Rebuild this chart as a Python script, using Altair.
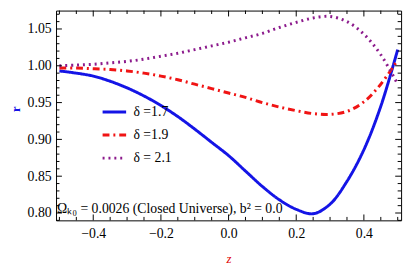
import altair as alt
import pandas as pd

# ---- data ----
z = [-0.5, -0.45, -0.4, -0.35, -0.3, -0.25, -0.2, -0.15, -0.1, -0.05, 0.0,
     0.05, 0.1, 0.15, 0.2, 0.25, 0.3, 0.35, 0.4, 0.45, 0.5]
r_17 = [0.993, 0.990, 0.986, 0.979, 0.970, 0.959, 0.946, 0.931, 0.914, 0.896, 0.878,
        0.857, 0.836, 0.818, 0.805, 0.799, 0.812, 0.843, 0.886, 0.945, 1.022]
r_19 = [0.997, 0.997, 0.996, 0.995, 0.993, 0.990, 0.986, 0.981, 0.975, 0.969, 0.963,
        0.957, 0.950, 0.944, 0.939, 0.935, 0.934, 0.938, 0.951, 0.975, 1.008]
r_21 = [1.000, 1.001, 1.002, 1.004, 1.006, 1.009, 1.013, 1.017, 1.022, 1.027, 1.032,
        1.038, 1.044, 1.052, 1.059, 1.065, 1.067, 1.060, 1.043, 1.015, 0.975]
series = ["δ =1.7", "δ =1.9", "δ = 2.1"]
colors = ["#1414e6", "#f01414", "#8c1a8c"]
dashes = [[1, 0], [7, 4, 2, 4], [2, 4]]
widths = [3, 3, 2.5]

x_major = [-0.4, -0.2, 0.0, 0.2, 0.4]
x_minor = [-0.5, -0.45, -0.35, -0.3, -0.25, -0.15, -0.1, -0.05,
           0.05, 0.1, 0.15, 0.25, 0.3, 0.35, 0.45, 0.5]
y_major = [0.80, 0.85, 0.90, 0.95, 1.00, 1.05]
y_minor = [0.79, 0.81, 0.82, 0.83, 0.84, 0.86, 0.87, 0.88, 0.89, 0.91, 0.92, 0.93,
           0.94, 0.96, 0.97, 0.98, 0.99, 1.01, 1.02, 1.03, 1.04, 1.06, 1.07]

annotation = "Ωₖ₀  =  0.0026 (Closed Universe),  b²  =  0.0"

W, H = 352, 214
SERIF = "Liberation Serif"

rows = []
for name, vals in zip(series, [r_17, r_19, r_21]):
    for zz, rr in zip(z, vals):
        rows.append({"z": zz, "r": rr, "series": name})
df = pd.DataFrame(rows)

xs = alt.Scale(domain=[-0.51, 0.51], nice=False, zero=False)
ys = alt.Scale(domain=[0.79, 1.075], nice=False, zero=False)

ax_x = alt.Axis(values=x_major, format=".1f", ticks=False, domain=False, grid=False,
                labelFont=SERIF, labelFontSize=14, labelColor="black", labelPadding=6,
                title="z", titleFont=SERIF, titleFontStyle="italic", titleFontWeight="normal",
                titleColor="#e00000", titleFontSize=13, titlePadding=13)
ax_y = alt.Axis(values=y_major, format=".2f", ticks=False, domain=False, grid=False,
                labelFont=SERIF, labelFontSize=14, labelColor="black", labelPadding=5,
                title="r", titleFont=SERIF, titleFontWeight="bold", titleColor="#1414e6",
                titleFontSize=13, titleX=-34, titleY=100)

legend = alt.Legend(orient="none", legendX=46, legendY=90, title=None,
                    symbolType="stroke", symbolSize=576, symbolStrokeWidth=3,
                    labelFont=SERIF, labelFontSize=14, labelColor="black",
                    labelOffset=6, rowPadding=2.5, padding=0)

lines = alt.Chart(df).mark_line(clip=True, interpolate="catmull-rom").encode(
    x=alt.X("z:Q", scale=xs, axis=ax_x),
    y=alt.Y("r:Q", scale=ys, axis=ax_y),
    color=alt.Color("series:N", scale=alt.Scale(domain=series, range=colors), legend=legend),
    strokeDash=alt.StrokeDash("series:N", scale=alt.Scale(domain=series, range=dashes), legend=legend),
    strokeWidth=alt.StrokeWidth("series:N", scale=alt.Scale(domain=series, range=widths), legend=None),
    order=alt.Order("z:Q"),
)

def xticks(vals, length, top):
    d = pd.DataFrame({"z": vals})
    if top:
        return alt.Chart(d).mark_rule(color="black", strokeWidth=1).encode(
            x=alt.X("z:Q", scale=xs, axis=ax_x), y=alt.value(0), y2=alt.value(length))
    return alt.Chart(d).mark_rule(color="black", strokeWidth=1).encode(
        x=alt.X("z:Q", scale=xs, axis=ax_x), y=alt.value(H), y2=alt.value(H - length))

def yticks(vals, length, right):
    d = pd.DataFrame({"r": vals})
    if right:
        return alt.Chart(d).mark_rule(color="black", strokeWidth=1).encode(
            y=alt.Y("r:Q", scale=ys, axis=ax_y), x=alt.value(W), x2=alt.value(W - length))
    return alt.Chart(d).mark_rule(color="black", strokeWidth=1).encode(
        y=alt.Y("r:Q", scale=ys, axis=ax_y), x=alt.value(0), x2=alt.value(length))

ticks = [
    xticks(x_major, 6, False), xticks(x_minor, 3.5, False),
    xticks(x_major, 6, True), xticks(x_minor, 3.5, True),
    yticks(y_major, 6, False), yticks(y_minor, 3.5, False),
    yticks(y_major, 6, True), yticks(y_minor, 3.5, True),
]

ann = alt.Chart(pd.DataFrame({"z": [-0.51], "r": [0.806], "t": [annotation]})).mark_text(
    align="left", baseline="middle", font=SERIF, fontSize=14, color="black", dx=1
).encode(x=alt.X("z:Q", scale=xs, axis=ax_x), y=alt.Y("r:Q", scale=ys, axis=ax_y), text="t:N")

chart = alt.layer(lines, ann, *ticks).properties(
    width=W, height=H,
    autosize=alt.AutoSizeParams(type="none"),
    padding={"left": 49, "top": 0, "right": 5, "bottom": 48},
    background="white",
).configure_view(stroke="black", strokeWidth=1)

chart.save("out.html", embed_options={"renderer": "svg", "actions": False})
